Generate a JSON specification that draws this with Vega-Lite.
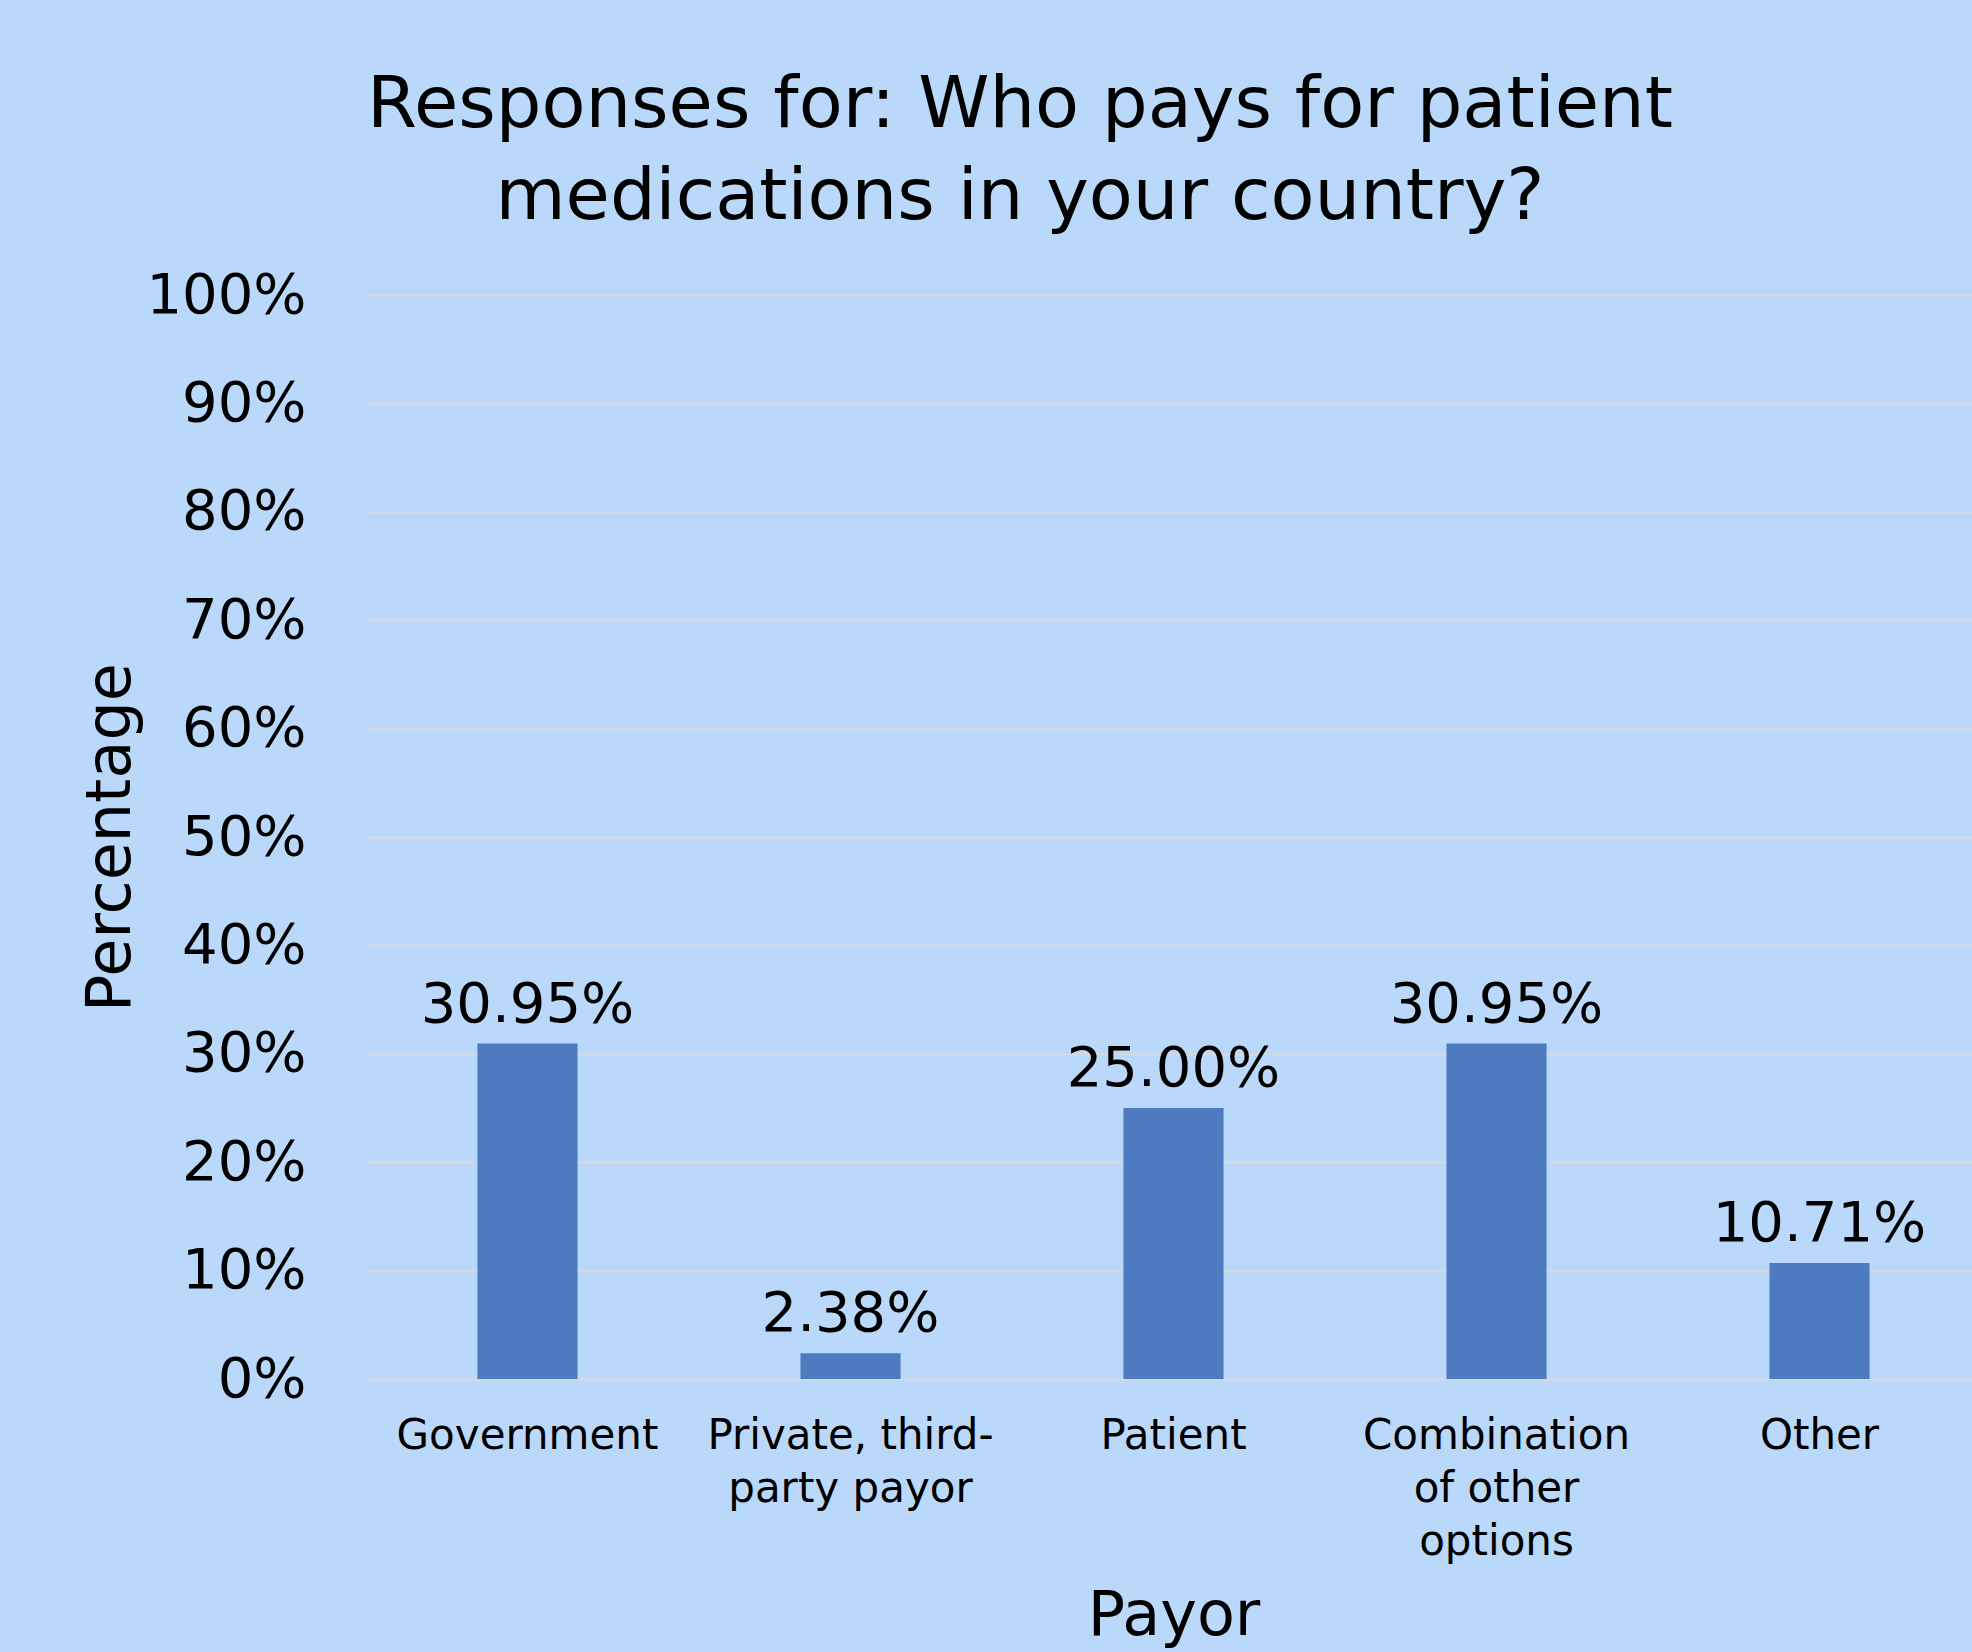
{
  "$schema": "https://vega.github.io/schema/vega-lite/v6.json",
  "width": 1606,
  "height": 1084,
  "autosize": {"type": "none"},
  "padding": {"left": 366, "top": 295, "right": 0, "bottom": 273},
  "background": "#bad8f9",
  "title": {
    "text": ["Responses for: Who pays for patient", "medications in your country?"],
    "fontSize": 72,
    "font": "DejaVu Sans",
    "fontWeight": "normal",
    "color": "#000000",
    "anchor": "middle",
    "frame": "group",
    "dx": -149,
    "dy": 67,
    "lineHeight": 92,
    "baseline": "bottom",
    "offset": 28
  },
  "data": {
    "values": [
      {"payor": "Government", "share": 0.3095},
      {"payor": "Private, third-party payor", "share": 0.0238},
      {"payor": "Patient", "share": 0.25},
      {"payor": "Combination of other options", "share": 0.3095},
      {"payor": "Other", "share": 0.1071}
    ]
  },
  "encoding": {
    "x": {
      "field": "payor",
      "type": "nominal",
      "sort": null,
      "scale": {"range": [0, 1615], "paddingInner": 0.69, "paddingOuter": 0.345},
      "axis": {
        "title": "Payor",
        "labelAngle": 0,
        "labelFontSize": 42,
        "labelLineHeight": 53,
        "labelPadding": 36,
        "labelLimit": 0,
        "labelBaseline": "top",
        "labelColor": "#000000",
        "ticks": false,
        "domain": false,
        "labelExpr": "datum.label == 'Private, third-party payor' ? ['Private, third-', 'party payor'] : datum.label == 'Combination of other options' ? ['Combination', 'of other', 'options'] : datum.label",
        "titleFontSize": 62,
        "titleFontWeight": "normal",
        "titleColor": "#000000",
        "titlePadding": 23
      }
    },
    "y": {
      "field": "share",
      "type": "quantitative",
      "scale": {"domain": [0, 1], "nice": false},
      "axis": {
        "title": "Percentage",
        "format": ".0%",
        "values": [0, 0.1, 0.2, 0.3, 0.4, 0.5, 0.6, 0.7, 0.8, 0.9, 1],
        "grid": true,
        "gridColor": "#d9d9d9",
        "gridWidth": 2,
        "domain": false,
        "ticks": false,
        "labelFontSize": 56,
        "labelPadding": 60,
        "labelColor": "#000000",
        "titleFontSize": 62,
        "titleFontWeight": "normal",
        "titleColor": "#000000",
        "titlePadding": 24
      }
    }
  },
  "layer": [
    {"mark": {"type": "bar", "color": "#4e7ac0"}},
    {
      "mark": {"type": "text", "baseline": "alphabetic", "dy": -22, "fontSize": 56, "color": "#000000"},
      "encoding": {"text": {"field": "share", "type": "quantitative", "format": ".2%"}}
    }
  ],
  "config": {"view": {"stroke": null}, "font": "DejaVu Sans"}
}
